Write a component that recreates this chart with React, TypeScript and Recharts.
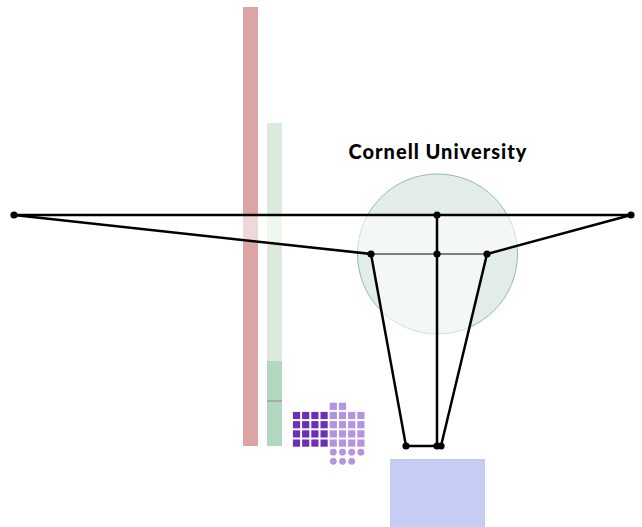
import { ComposedChart, XAxis, YAxis, Area, Line, Scatter, ReferenceArea, ReferenceDot, ReferenceLine } from "recharts";

// plain page coordinates, y grows downward
const W = 642;
const H = 527;

// vertical bars: [x1, x2, y1, y2, colour]
const bars = [
  { x1: 243, x2: 258, y1: 7, y2: 446, fill: "#dca4a4" },
  { x1: 267, x2: 282, y1: 123, y2: 361, fill: "#dbeadc" },
  { x1: 267, x2: 282, y1: 361, y2: 446, fill: "#b3d8bf" },
];
const barTick = { x1: 267, x2: 282, y: 401 };

const blueBox = { x1: 390, x2: 485, y1: 459, y2: 527 };

const circle = [{ x: 437.5, y: 254, r: 80 }];

// translucent funnel polygon: top edge and bottom edge per x
const funnel = [
  { x: 14, range: [215, 215] },
  { x: 371, range: [215, 254] },
  { x: 406, range: [215, 446] },
  { x: 441, range: [215, 446] },
  { x: 487, range: [215, 254] },
  { x: 631, range: [215, 215] },
];

const topLine = [
  { x: 14, y: 215 },
  { x: 631, y: 215 },
];
const outline = [
  { x: 14, y: 215 },
  { x: 371, y: 254 },
  { x: 406, y: 446 },
  { x: 441, y: 446 },
  { x: 487, y: 254 },
  { x: 631, y: 215 },
];
const stem = [
  { x: 437, y: 215 },
  { x: 437, y: 446 },
];
const midLine = [
  { x: 371, y: 254 },
  { x: 487, y: 254 },
];
const nodes = [
  { x: 14, y: 215 },
  { x: 437, y: 215 },
  { x: 631, y: 215 },
  { x: 371, y: 254 },
  { x: 437, y: 254 },
  { x: 487, y: 254 },
  { x: 406, y: 446 },
  { x: 437, y: 446 },
  { x: 441, y: 446 },
];

// waffle grid
const waffleCols = [296.5, 305.7, 314.9, 324.1, 333.3, 342.5, 351.7, 360.9];
const waffleRows = [406.3, 415.5, 424.7, 433.9, 443.1, 452.2, 461.3];
const darkCells = [
  [0, 1], [1, 1], [2, 1], [3, 1],
  [0, 2], [1, 2], [2, 2], [3, 2],
  [0, 3], [1, 3], [2, 3], [3, 3],
  [0, 4], [1, 4], [2, 4], [3, 4],
];
const lightCells = [
  [4, 0], [5, 0],
  [4, 1], [5, 1], [6, 1], [7, 1],
  [4, 2], [5, 2], [6, 2], [7, 2],
  [4, 3], [5, 3], [6, 3], [7, 3],
  [4, 4], [5, 4], [6, 4], [7, 4],
];
const dotCells = [
  [4, 5], [5, 5], [6, 5], [7, 5],
  [4, 6], [5, 6], [6, 6],
];

const title = { x: 438, y: 151, text: "Cornell University" };

const toPts = (cells: number[][]) => cells.map(([c, r]) => ({ x: waffleCols[c], y: waffleRows[r] }));

function square(fill: string) {
  return (p: any) => <rect x={p.cx - 3.6} y={p.cy - 3.6} width={7.2} height={7.2} fill={fill} />;
}

export default function App() {
  return (
    <div style={{ position: "absolute", left: 0, top: 0 }}>
      <ComposedChart width={W} height={H} data={funnel} margin={{ top: 0, right: 0, bottom: 0, left: 0 }}>
        <XAxis dataKey="x" type="number" domain={[0, W]} hide allowDataOverflow />
        <YAxis type="number" domain={[0, H]} reversed hide allowDataOverflow />

        {bars.map((b, i) => (
          <ReferenceArea key={i} x1={b.x1} x2={b.x2} y1={b.y1} y2={b.y2} fill={b.fill} fillOpacity={1} stroke="none" />
        ))}
        <ReferenceLine
          segment={[{ x: barTick.x1, y: barTick.y }, { x: barTick.x2, y: barTick.y }]}
          stroke="#aaaaaa"
          strokeWidth={2}
        />

        <Scatter
          data={circle}
          dataKey="y"
          zIndex={50}
          isAnimationActive={false}
          shape={(p: any) => (
            <circle cx={p.cx} cy={p.cy} r={p.payload.r} fill="#e3ede8" stroke="#93bca4" strokeWidth={1} />
          )}
        />

        <Area dataKey="range" type="linear" zIndex={100} fill="#ffffff" fillOpacity={0.57} stroke="none" dot={false} activeDot={false} isAnimationActive={false} />

        <Line data={midLine} dataKey="y" stroke="#555555" strokeWidth={1.5} dot={false} activeDot={false} isAnimationActive={false} />
        <Line data={topLine} dataKey="y" stroke="#000" strokeWidth={2.5} dot={false} activeDot={false} isAnimationActive={false} />
        <Line data={outline} dataKey="y" stroke="#000" strokeWidth={2.5} dot={false} activeDot={false} isAnimationActive={false} />
        <Line data={stem} dataKey="y" stroke="#000" strokeWidth={2.5} dot={false} activeDot={false} isAnimationActive={false} />
        <Scatter
          data={nodes}
          dataKey="y"
          zIndex={1500}
          isAnimationActive={false}
          shape={(p: any) => <circle cx={p.cx} cy={p.cy} r={3.6} fill="#000" stroke="none" />}
        />

        <Scatter data={toPts(darkCells)} dataKey="y" isAnimationActive={false} shape={square("#6b2fb8")} />
        <Scatter data={toPts(lightCells)} dataKey="y" isAnimationActive={false} shape={square("#b594df")} />
        <Scatter
          data={toPts(dotCells)}
          dataKey="y"
          isAnimationActive={false}
          shape={(p: any) => <circle cx={p.cx} cy={p.cy} r={3.4} fill="#b594df" />}
        />

        <ReferenceArea
          x1={blueBox.x1}
          x2={blueBox.x2}
          y1={blueBox.y1}
          y2={blueBox.y2}
          fill="#c5cdf5"
          fillOpacity={1}
          stroke="none"
        />

        <ReferenceDot
          x={title.x}
          y={title.y}
          shape={(p: any) => (
            <text
              x={p.cx}
              y={p.cy}
              textAnchor="middle"
              dominantBaseline="central"
              fontFamily="Lato, sans-serif"
              fontWeight={900}
              fontSize={20}
              letterSpacing={1}
              fill="#000"
            >
              {title.text}
            </text>
          )}
        />
      </ComposedChart>
    </div>
  );
}
